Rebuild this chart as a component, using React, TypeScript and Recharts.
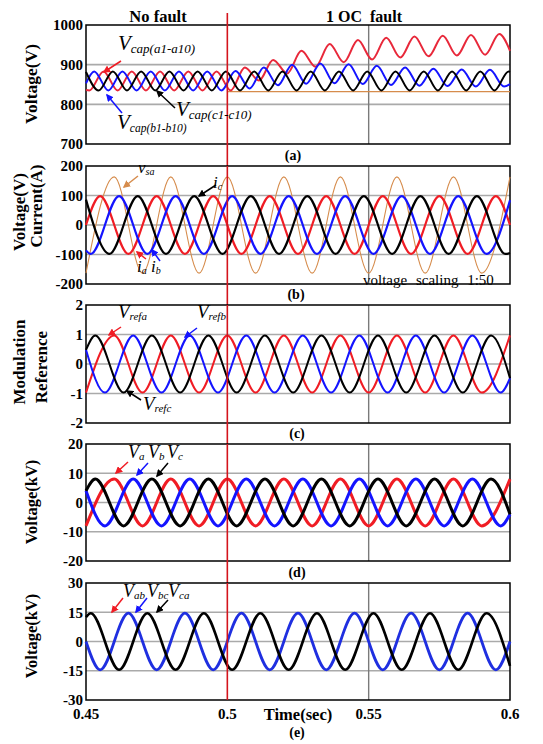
import React from "react";
import {
  CartesianGrid,
  Line,
  LineChart,
  ReferenceArea,
  ReferenceLine,
  XAxis,
  YAxis,
} from "recharts";

type Pt = [number, number];

const SERIF = '"Liberation Serif", "Times New Roman", serif';
const RED = "#f01c24";
const BLUE = "#1414ff";
const BLACK = "#000000";
const ORANGE = "#d68c4c";

const timeTicks = [0.45, 0.5, 0.55, 0.6];
const faultTime = 0.5;

// (a) capacitor voltages (V)
const capTicks = [700, 800, 900, 1000];
const capA: Pt[] = [
  [0.45, 836], [0.4512, 835], [0.4562, 883], [0.4612, 835], [0.4662, 883], [0.4712, 835],
  [0.4762, 883], [0.4812, 835], [0.4862, 883], [0.4912, 835], [0.4962, 883], [0.5012, 835],
  [0.5062, 893], [0.5112, 860], [0.5162, 912], [0.5212, 878], [0.5262, 935], [0.5312, 895],
  [0.5362, 952], [0.5412, 906], [0.5462, 962], [0.5512, 913], [0.5562, 968], [0.5612, 918],
  [0.5662, 971], [0.5712, 921], [0.5762, 973], [0.5812, 923], [0.5862, 975], [0.5912, 925],
  [0.5962, 977], [0.6, 935],
];
const capB: Pt[] = [
  [0.45, 853], [0.4529, 883], [0.4579, 835], [0.4629, 883], [0.4679, 835], [0.4729, 883],
  [0.4779, 835], [0.4829, 883], [0.4879, 835], [0.4929, 883], [0.4979, 835], [0.5029, 884],
  [0.5079, 840], [0.5129, 893], [0.5179, 848], [0.5229, 900], [0.5279, 852], [0.5329, 903],
  [0.5379, 853], [0.5429, 901], [0.5479, 851], [0.5529, 897], [0.5579, 849], [0.5629, 893],
  [0.5679, 847], [0.5729, 890], [0.5779, 846], [0.5829, 888], [0.5879, 845], [0.5929, 887],
  [0.5979, 845], [0.6, 851],
];
const capC: Pt[] = [
  [0.45, 882], [0.4545, 835], [0.4595, 883], [0.4645, 835], [0.4695, 883], [0.4745, 835],
  [0.4795, 883], [0.4845, 835], [0.4895, 883], [0.4945, 835], [0.4995, 883], [0.5045, 835],
  [0.5095, 883], [0.5145, 835], [0.5195, 883], [0.5245, 835], [0.5295, 883], [0.5345, 835],
  [0.5395, 883], [0.5445, 835], [0.5495, 883], [0.5545, 835], [0.5595, 883], [0.5645, 835],
  [0.5695, 883], [0.5745, 835], [0.5795, 883], [0.5845, 835], [0.5895, 883], [0.5945, 835],
  [0.5995, 883], [0.6, 882],
];
const capLimit: Pt[] = [[0.5, 832], [0.6, 832]];

// (b) grid voltage (scaled 1:50) and currents
const curTicks = [-200, -100, 0, 100, 200];
const vsa: Pt[] = [
  [0.45, -163], [0.46, 163], [0.47, -163], [0.48, 163], [0.49, -163], [0.5, 163],
  [0.51, -163], [0.52, 163], [0.53, -163], [0.54, 163], [0.55, -163], [0.56, 163],
  [0.57, -163], [0.58, 163], [0.59, -163], [0.6, 163],
];
const ia: Pt[] = [
  [0.45, 0], [0.455, 98], [0.465, -98], [0.475, 98], [0.485, -98], [0.495, 98],
  [0.505, -98], [0.515, 98], [0.525, -98], [0.535, 98], [0.545, -98], [0.555, 98],
  [0.565, -98], [0.575, 98], [0.585, -98], [0.595, 98], [0.6, 0],
];
const ib: Pt[] = [
  [0.45, -86], [0.4517, -98], [0.4617, 98], [0.4717, -98], [0.4817, 98], [0.4917, -98],
  [0.5017, 98], [0.5117, -98], [0.5217, 98], [0.5317, -98], [0.5417, 98], [0.5517, -98],
  [0.5617, 98], [0.5717, -98], [0.5817, 98], [0.5917, -98], [0.6, 84],
];
const ic: Pt[] = [
  [0.45, 86], [0.4583, -98], [0.4683, 98], [0.4783, -98], [0.4883, 98], [0.4983, -98],
  [0.5083, 98], [0.5183, -98], [0.5283, 98], [0.5383, -98], [0.5483, 98], [0.5583, -98],
  [0.5683, 98], [0.5783, -98], [0.5883, 98], [0.5983, -98], [0.6, -95],
];

// (c) modulation references
const refTicks = [-2, -1, 0, 1, 2];
const refA: Pt[] = [
  [0.45, -0.97], [0.46, 0.97], [0.47, -0.97], [0.48, 0.97], [0.49, -0.97], [0.5, 0.97],
  [0.51, -0.97], [0.52, 0.97], [0.53, -0.97], [0.54, 0.97], [0.55, -0.97], [0.56, 0.97],
  [0.57, -0.97], [0.58, 0.97], [0.59, -0.97], [0.6, 0.97],
];
const refB: Pt[] = [
  [0.45, 0.48], [0.4567, -0.97], [0.4667, 0.97], [0.4767, -0.97], [0.4867, 0.97], [0.4967, -0.97],
  [0.5067, 0.97], [0.5167, -0.97], [0.5267, 0.97], [0.5367, -0.97], [0.5467, 0.97], [0.5567, -0.97],
  [0.5667, 0.97], [0.5767, -0.97], [0.5867, 0.97], [0.5967, -0.97], [0.6, -0.48],
];
const refC: Pt[] = [
  [0.45, 0.48], [0.4533, 0.97], [0.4633, -0.97], [0.4733, 0.97], [0.4833, -0.97], [0.4933, 0.97],
  [0.5033, -0.97], [0.5133, 0.97], [0.5233, -0.97], [0.5333, 0.97], [0.5433, -0.97], [0.5533, 0.97],
  [0.5633, -0.97], [0.5733, 0.97], [0.5833, -0.97], [0.5933, 0.97], [0.6, -0.48],
];

// (d) phase voltages (kV)
const phaseTicks = [-20, -10, 0, 10, 20];
const va: Pt[] = [
  [0.45, -8], [0.46, 8], [0.47, -8], [0.48, 8], [0.49, -8], [0.5, 8],
  [0.51, -8], [0.52, 8], [0.53, -8], [0.54, 8], [0.55, -8], [0.56, 8],
  [0.57, -8], [0.58, 8], [0.59, -8], [0.6, 8],
];
const vb: Pt[] = [
  [0.45, 4], [0.4567, -8], [0.4667, 8], [0.4767, -8], [0.4867, 8], [0.4967, -8],
  [0.5067, 8], [0.5167, -8], [0.5267, 8], [0.5367, -8], [0.5467, 8], [0.5567, -8],
  [0.5667, 8], [0.5767, -8], [0.5867, 8], [0.5967, -8], [0.6, -4],
];
const vc: Pt[] = [
  [0.45, 4], [0.4533, 8], [0.4633, -8], [0.4733, 8], [0.4833, -8], [0.4933, 8],
  [0.5033, -8], [0.5133, 8], [0.5233, -8], [0.5333, 8], [0.5433, -8], [0.5533, 8],
  [0.5633, -8], [0.5733, 8], [0.5833, -8], [0.5933, 8], [0.6, -4],
];

// (e) line voltages (kV)
const lineTicks = [-30, -15, 0, 15, 30];
const vbc: Pt[] = [
  [0.45, 0], [0.455, -14.5], [0.465, 14.5], [0.475, -14.5], [0.485, 14.5], [0.495, -14.5],
  [0.505, 14.5], [0.515, -14.5], [0.525, 14.5], [0.535, -14.5], [0.545, 14.5], [0.555, -14.5],
  [0.565, 14.5], [0.575, -14.5], [0.585, 14.5], [0.595, -14.5], [0.6, 0],
];
const vca: Pt[] = [
  [0.45, 12.5], [0.4517, 14.5], [0.4617, -14.5], [0.4717, 14.5], [0.4817, -14.5], [0.4917, 14.5],
  [0.5017, -14.5], [0.5117, 14.5], [0.5217, -14.5], [0.5317, 14.5], [0.5417, -14.5], [0.5517, 14.5],
  [0.5617, -14.5], [0.5717, 14.5], [0.5817, -14.5], [0.5917, 14.5], [0.6, -12.5],
];

const pts = (d: Pt[]) => d.map(([t, v]) => ({ t, v }));

type Series = { key: string; data: Pt[]; color: string; width: number };

type PanelProps = {
  top: number;
  height: number;
  ticks: number[];
  series: Series[];
  showTime?: boolean;
  extTop?: number;
  extBottom?: number;
};

const tickStyle = { fontFamily: SERIF, fontWeight: 700, fontSize: 15, fill: "#000" };

function Panel({ top, height, ticks, series, showTime, extTop = 0, extBottom = 0 }: PanelProps) {
  const mTop = 20;
  const mBottom = showTime ? 14 : 24;
  const axisH = showTime ? 30 : 0;
  const domain: [number, number] = [ticks[0], ticks[ticks.length - 1]];
  return (
    <div style={{ position: "absolute", left: 0, top: top - mTop }}>
      <LineChart
        width={543}
        height={height + mTop + mBottom + axisH}
        margin={{ top: mTop, right: 33, bottom: mBottom, left: 0 }}
      >
        <CartesianGrid
          vertical={false}
          horizontalValues={ticks.slice(1, -1)}
          stroke="#aaaaaa"
          strokeWidth={1.6}
        />
        <CartesianGrid
          horizontal={false}
          verticalValues={[0.55]}
          stroke="#7a7a7a"
          strokeWidth={1.4}
        />
        <XAxis
          type="number"
          dataKey="t"
          domain={[0.45, 0.6]}
          ticks={timeTicks}
          interval={0}
          hide={!showTime}
          height={30}
          axisLine={false}
          tickLine={false}
          tickSize={0}
          tickMargin={8}
          tick={tickStyle}
        />
        <YAxis
          type="number"
          domain={domain}
          ticks={ticks}
          interval={0}
          width={86}
          axisLine={false}
          tickLine={false}
          tickSize={0}
          tickMargin={3}
          tick={tickStyle}
        />
        {series.map((s) => (
          <Line
            key={s.key}
            data={pts(s.data)}
            dataKey="v"
            type="monotone"
            stroke={s.color}
            strokeWidth={s.width}
            dot={false}
            activeDot={false}
            isAnimationActive={false}
          />
        ))}
        <ReferenceArea
          x1={0.45}
          x2={0.6}
          y1={domain[0]}
          y2={domain[1]}
          fill="none"
          fillOpacity={0}
          stroke="#000"
          strokeWidth={1.5}
          ifOverflow="visible"
        />
        <ReferenceLine
          x={faultTime}
          ifOverflow="visible"
          shape={(p: any) => {
            const y0 = Math.min(p.y1, p.y2);
            const y1 = Math.max(p.y1, p.y2);
            return (
              <line
                x1={p.x1}
                x2={p.x2}
                y1={y0 - extTop}
                y2={y1 + extBottom}
                stroke="#d4141c"
                strokeWidth={1.6}
              />
            );
          }}
        />
      </LineChart>
    </div>
  );
}

function Sym({ x, y, base, sub, size, subSize }: { x: number; y: number; base: string; sub: string; size: number; subSize?: number }) {
  return (
    <text x={x} y={y} fontFamily={SERIF} fontStyle="italic" fill="#000">
      <tspan fontSize={size}>{base}</tspan>
      <tspan fontSize={subSize ?? Math.round(size * 0.6)} dy={size * 0.12}>{sub}</tspan>
    </text>
  );
}

function Arrow({ x1, y1, x2, y2, id, color }: { x1: number; y1: number; x2: number; y2: number; id: string; color: string }) {
  return <line x1={x1} y1={y1} x2={x2} y2={y2} stroke={color} strokeWidth={1.5} markerEnd={`url(#ah-${id})`} />;
}

function YLabel({ x, y, text, size = 17.5 }: { x: number; y: number; text: string; size?: number }) {
  return (
    <text
      x={x}
      y={y}
      transform={`rotate(-90 ${x} ${y})`}
      textAnchor="middle"
      dominantBaseline="central"
      fontFamily={SERIF}
      fontWeight={700}
      fontSize={size}
      fill="#000"
    >
      {text}
    </text>
  );
}

function Caption({ x, y, text }: { x: number; y: number; text: string }) {
  return (
    <text x={x} y={y} textAnchor="middle" fontFamily={SERIF} fontWeight={700} fontSize={14} fill="#000">
      {text}
    </text>
  );
}

export default function App() {
  const markers = [
    { id: "r", color: RED },
    { id: "b", color: BLUE },
    { id: "k", color: BLACK },
    { id: "o", color: ORANGE },
  ];
  return (
    <div style={{ position: "absolute", left: 0, top: 0, width: 543, height: 744, background: "#fff", overflow: "hidden" }}>
      <style>{`.recharts-surface{overflow:visible}`}</style>

      <Panel
        top={25}
        height={119}
        ticks={capTicks}
        extTop={12}
        extBottom={22}
        series={[
          { key: "lim", data: capLimit, color: ORANGE, width: 1.3 },
          { key: "a", data: capA, color: "#e8283a", width: 2 },
          { key: "b", data: capB, color: BLUE, width: 2 },
          { key: "c", data: capC, color: BLACK, width: 2 },
        ]}
      />
      <Panel
        top={166}
        height={118}
        ticks={curTicks}
        extBottom={21}
        series={[
          { key: "vsa", data: vsa, color: ORANGE, width: 1.1 },
          { key: "ia", data: ia, color: RED, width: 2.2 },
          { key: "ib", data: ib, color: BLUE, width: 2.2 },
          { key: "ic", data: ic, color: BLACK, width: 2.2 },
        ]}
      />
      <Panel
        top={305}
        height={118}
        ticks={refTicks}
        extBottom={21}
        series={[
          { key: "ra", data: refA, color: RED, width: 2 },
          { key: "rb", data: refB, color: BLUE, width: 2 },
          { key: "rc", data: refC, color: BLACK, width: 2 },
        ]}
      />
      <Panel
        top={444}
        height={117}
        ticks={phaseTicks}
        extBottom={22}
        series={[
          { key: "va", data: va, color: RED, width: 3 },
          { key: "vb", data: vb, color: BLUE, width: 3 },
          { key: "vc", data: vc, color: BLACK, width: 3 },
        ]}
      />
      <Panel
        top={583}
        height={117}
        ticks={lineTicks}
        showTime
        series={[
          { key: "vbc", data: vbc, color: "#1f2fe0", width: 2.8 },
          { key: "vca", data: vca, color: BLACK, width: 2.6 },
        ]}
      />

      <svg width={543} height={744} style={{ position: "absolute", left: 0, top: 0, pointerEvents: "none" }}>
        <defs>
          {markers.map((m) => (
            <marker
              key={m.id}
              id={`ah-${m.id}`}
              viewBox="0 0 10 10"
              refX="8"
              refY="5"
              markerWidth="5"
              markerHeight="5"
              orient="auto"
            >
              <path d="M0,0 L10,5 L0,10 z" fill={m.color} />
            </marker>
          ))}
        </defs>

        <text x={158} y={22} textAnchor="middle" fontFamily={SERIF} fontWeight={700} fontSize={16.5}>No fault</text>
        <text x={364} y={22} textAnchor="middle" fontFamily={SERIF} fontWeight={700} fontSize={16}>{"1 OC\u00a0 fault"}</text>

        <YLabel x={31} y={84} text="Voltage(V)" />
        <YLabel x={19} y={212} text="Voltage(V)" size={17} />
        <YLabel x={36} y={206} text="Current(A)" size={17} />
        <YLabel x={19} y={362} text="Modulation" size={17} />
        <YLabel x={41} y={367} text="Reference" size={17} />
        <YLabel x={31} y={502} text="Voltage(kV)" size={16.5} />
        <YLabel x={31} y={636} text="Voltage(kV)" size={16.5} />

        <Caption x={293} y={160} text="(a)" />
        <Caption x={296} y={299} text="(b)" />
        <Caption x={297} y={438} text="(c)" />
        <Caption x={297} y={577} text="(d)" />
        <Caption x={297} y={737} text="(e)" />

        <text x={298} y={720} textAnchor="middle" fontFamily={SERIF} fontWeight={700} fontSize={16.5}>Time(sec)</text>

        {/* (a) */}
        <Sym x={118} y={50} base="V" sub="cap(a1-a10)" size={21} />
        <Sym x={117} y={129} base="V" sub="cap(b1-b10)" size={21} subSize={11.5} />
        <Sym x={176} y={116} base="V" sub="cap(c1-c10)" size={21} />
        <Arrow x1={121} y1={61} x2={104} y2={72} id="r" color={RED} />
        <Arrow x1={122} y1={113} x2={107} y2={95} id="b" color={BLUE} />
        <Arrow x1={175} y1={108} x2={157} y2={91} id="k" color={BLACK} />

        {/* (b) */}
        <Sym x={138} y={173} base="v" sub="sa" size={17} />
        <Sym x={213} y={188} base="i" sub="c" size={17} />
        <Sym x={137} y={272} base="i" sub="a" size={17} />
        <Sym x={151} y={272} base="i" sub="b" size={17} />
        <Arrow x1={138} y1={176} x2={124} y2={187} id="o" color={ORANGE} />
        <Arrow x1={216} y1={185} x2={199} y2={196} id="k" color={BLACK} />
        <Arrow x1={146} y1={259} x2={137} y2={252} id="r" color={RED} />
        <Arrow x1={160} y1={261} x2={152} y2={250} id="b" color={BLUE} />
        <text x={363} y={285} fontFamily={SERIF} fontSize={15} wordSpacing={5} fill="#000">voltage scaling 1:50</text>

        {/* (c) */}
        <Sym x={118} y={318} base="V" sub="refa" size={19} />
        <Sym x={197} y={318} base="V" sub="refb" size={19} />
        <Sym x={143} y={410} base="V" sub="refc" size={19} />
        <Arrow x1={121} y1={327} x2={109} y2={335} id="r" color={RED} />
        <Arrow x1={197} y1={328} x2={185} y2={337} id="b" color={BLUE} />
        <Arrow x1={141} y1={400} x2={127} y2={391} id="k" color={BLACK} />

        {/* (d) */}
        <Sym x={128} y={458} base="V" sub="a" size={18} />
        <Sym x={148} y={458} base="V" sub="b" size={18} />
        <Sym x={167} y={458} base="V" sub="c" size={18} />
        <Arrow x1={128} y1={462} x2={116} y2={473} id="r" color={RED} />
        <Arrow x1={148} y1={463} x2={137} y2={475} id="b" color={BLUE} />
        <Arrow x1={168} y1={463} x2={157} y2={476} id="k" color={BLACK} />

        {/* (e) */}
        <Sym x={123} y={597} base="V" sub="ab" size={18} />
        <Sym x={147} y={597} base="V" sub="bc" size={18} />
        <Sym x={168} y={597} base="V" sub="ca" size={18} />
        <Arrow x1={123} y1={598} x2={112} y2={612} id="r" color={RED} />
        <Arrow x1={147} y1={598} x2={136} y2={612} id="b" color={BLUE} />
        <Arrow x1={168} y1={600} x2={157} y2={612} id="k" color={BLACK} />
      </svg>
    </div>
  );
}
